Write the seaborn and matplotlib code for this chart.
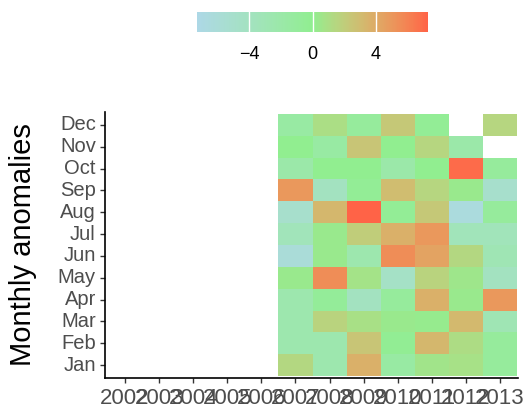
import numpy as np
import pandas as pd
import matplotlib
matplotlib.use("Agg")
import matplotlib.pyplot as plt
import seaborn as sns
from matplotlib.colors import ListedColormap

# ---------------- data ----------------
all_years = [2002, 2003, 2004, 2005, 2006, 2007, 2008, 2009, 2010, 2011, 2012, 2013]
data_years = [2007, 2008, 2009, 2010, 2011, 2012, 2013]
months = ["Jan", "Feb", "Mar", "Apr", "May", "Jun", "Jul", "Aug", "Sep", "Oct", "Nov", "Dec"]

jan = [1.4, -2.5, 3.7, -1.5, 0.6, 0.8, -1.0]
feb = [-2.5, -2.5, 2.5, -0.3, 3.3, 1.1, -1.0]
mar = [-2.5, 1.7, 0.9, 0.3, 0.2, 3.2, -3.0]
apr = [-2.5, -0.7, -4.0, -1.0, 3.7, 0.3, 5.0]
may = [0.3, 5.5, 0.7, -4.5, 1.7, 0.5, -4.0]
jun = [-6.0, 0.3, -2.5, 5.5, 4.4, 1.4, -3.0]
jul = [-3.5, 0.3, 2.0, 3.7, 5.0, -3.5, -3.5]
aug = [-5.0, 3.3, 7.3, -0.5, 2.3, -6.5, -1.0]
sep = [5.0, -4.0, -0.5, 3.0, 1.5, 0.3, -5.0]
oct_ = [-2.0, 0.0, 0.0, -2.0, 0.0, 7.0, -1.0]
nov = [0.0, -1.5, 2.5, 0.0, 1.5, -2.0, np.nan]
dec = [-1.5, 1.0, -1.0, 2.3, -0.5, np.nan, 1.5]

cbar_ticks = [-4, 0, 4]
limit = 7.3

rows = [jan, feb, mar, apr, may, jun, jul, aug, sep, oct_, nov, dec]
df = pd.DataFrame(np.nan, index=months, columns=all_years)
for m, vals in zip(months, rows):
    for y, v in zip(data_years, vals):
        df.loc[m, y] = v
df = df.iloc[::-1]  # Dec on top

# ---------------- colormap (Lab interpolation like ggplot) ----------------
def srgb_to_lab(rgb):
    c = np.asarray(rgb, float) / 255.0
    lin = np.where(c <= 0.04045, c / 12.92, ((c + 0.055) / 1.055) ** 2.4)
    M = np.array([[0.4124, 0.3576, 0.1805], [0.2126, 0.7152, 0.0722], [0.0193, 0.1192, 0.9505]])
    xyz = M @ lin
    wp = np.array([0.95047, 1.0, 1.08883])
    t = xyz / wp
    f = np.where(t > (6 / 29) ** 3, np.cbrt(t), t / (3 * (6 / 29) ** 2) + 4 / 29)
    return np.array([116 * f[1] - 16, 500 * (f[0] - f[1]), 200 * (f[1] - f[2])])

def lab_to_srgb(lab):
    L, a, b = lab
    fy = (L + 16) / 116
    fx = fy + a / 500
    fz = fy - b / 200
    f = np.array([fx, fy, fz])
    t = np.where(f > 6 / 29, f ** 3, 3 * (6 / 29) ** 2 * (f - 4 / 29))
    xyz = t * np.array([0.95047, 1.0, 1.08883])
    Minv = np.array([[3.2406, -1.5372, -0.4986], [-0.9689, 1.8758, 0.0415], [0.0557, -0.2040, 1.0570]])
    lin = Minv @ xyz
    lin = np.clip(lin, 0, 1)
    c = np.where(lin <= 0.0031308, 12.92 * lin, 1.055 * lin ** (1 / 2.4) - 0.055)
    return np.clip(c, 0, 1)

low = srgb_to_lab((173, 216, 230))   # lightblue
mid = srgb_to_lab((144, 238, 144))   # lightgreen
high = srgb_to_lab((255, 99, 71))    # tomato
cols = []
N = 256
for i in range(N):
    t = i / (N - 1)
    if t <= 0.5:
        s = t / 0.5
        lab = low + (mid - low) * s
    else:
        s = (t - 0.5) / 0.5
        lab = mid + (high - mid) * s
    cols.append(lab_to_srgb(lab))
cmap = ListedColormap(cols)

# ---------------- figure ----------------
plt.rcParams["font.family"] = ["Liberation Sans", "DejaVu Sans"]
W, H = 526, 408
fig = plt.figure(figsize=(W / 100, H / 100), dpi=100)
ax = fig.add_axes([105 / W, 1 - 378 / H, 413 / W, 266 / H])
cax = fig.add_axes([197 / W, 1 - 32 / H, 231 / W, 20 / H])

sns.heatmap(df, cmap=cmap, vmin=-limit, vmax=limit, ax=ax, cbar_ax=cax,
            cbar_kws={"orientation": "horizontal", "ticks": cbar_ticks})

ax.set_xlim(-0.09, 12.03)
ax.set_ylim(12.09, -0.09)
ax.set_xticks(np.arange(len(all_years)) + 0.5)
ax.set_xticklabels([str(y) for y in all_years], rotation=0, fontsize=16, color="#4d4d4d")
ax.set_yticks(np.arange(len(months)) + 0.5)
ax.set_yticklabels(list(df.index), rotation=0, fontsize=14.5, color="#4d4d4d")
ax.set_xlabel("")
ax.set_ylabel("Monthly anomalies", fontsize=21, color="black")
ax.yaxis.set_label_coords(-0.165, 0.5)
for s in ["left", "bottom"]:
    ax.spines[s].set_visible(True)
    ax.spines[s].set_color("black")
    ax.spines[s].set_linewidth(1.2)
for s in ["top", "right"]:
    ax.spines[s].set_visible(False)
ax.tick_params(axis="both", length=3.6, width=1.0, color="#333333")
ax.tick_params(axis="y", pad=3)
ax.tick_params(axis="x", pad=3.5)

# colorbar styling
cb = ax.collections[0].colorbar
cb.outline.set_visible(False)
cax.tick_params(length=0, labelsize=13, labelcolor="black", pad=10)
for t in cbar_ticks:
    cax.axvline(t, color="white", linewidth=1.0)

fig.savefig("out.png", dpi=100)
